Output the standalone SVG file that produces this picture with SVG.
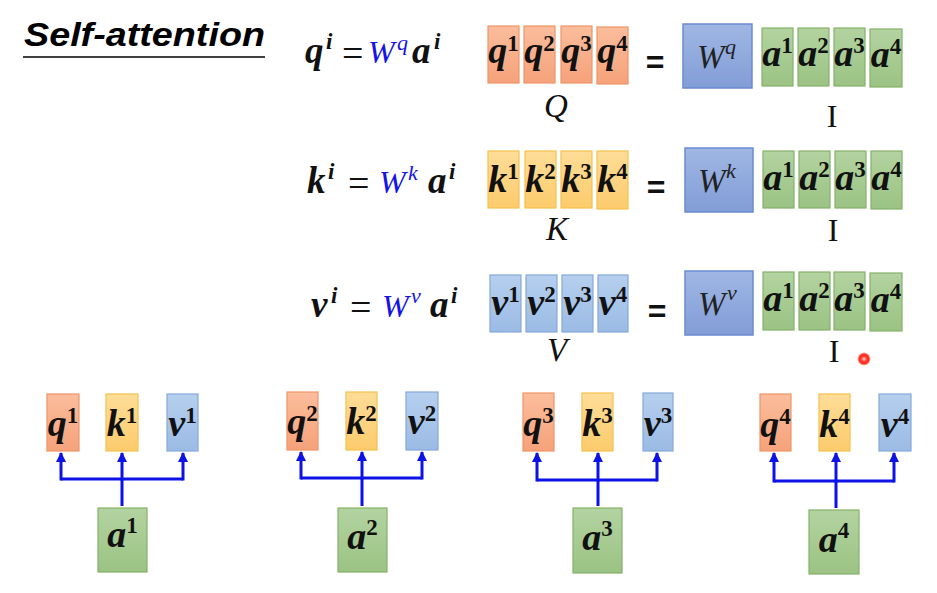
<svg xmlns="http://www.w3.org/2000/svg" width="937" height="593" viewBox="0 0 937 593">
<defs>
<linearGradient id="gq" x1="0" y1="0" x2="0" y2="1"><stop offset="0" stop-color="#fbbd9c"/><stop offset="1" stop-color="#f5a27a"/></linearGradient>
<linearGradient id="gk" x1="0" y1="0" x2="0" y2="1"><stop offset="0" stop-color="#fedd98"/><stop offset="1" stop-color="#fccb6c"/></linearGradient>
<linearGradient id="gv" x1="0" y1="0" x2="0" y2="1"><stop offset="0" stop-color="#b6cfee"/><stop offset="1" stop-color="#9bbbe5"/></linearGradient>
<linearGradient id="ga" x1="0" y1="0" x2="0" y2="1"><stop offset="0" stop-color="#b3d3a0"/><stop offset="1" stop-color="#9bc384"/></linearGradient>
<linearGradient id="gw" x1="0" y1="0" x2="0" y2="1"><stop offset="0" stop-color="#a0b7e4"/><stop offset="1" stop-color="#829dd7"/></linearGradient>
<radialGradient id="gdot"><stop offset="0" stop-color="#ffdddd"/><stop offset="0.4" stop-color="#ff3b2f"/><stop offset="0.7" stop-color="#ff2a1a"/><stop offset="1" stop-color="#ff6a5a" stop-opacity="0"/></radialGradient>
<marker id="ah" markerUnits="userSpaceOnUse" markerWidth="10" markerHeight="10" refX="9" refY="5" orient="auto">
<path d="M0,0 L10,5 L0,10 z" fill="#0d12e6"/>
</marker>
</defs>
<style>
.q{fill:url(#gq);stroke:#ef9468;stroke-width:1.2}
.k{fill:url(#gk);stroke:#f4c14e;stroke-width:1.2}
.v{fill:url(#gv);stroke:#84a8da;stroke-width:1.2}
.a{fill:url(#ga);stroke:#84b169;stroke-width:1.2}
.w{fill:url(#gw);stroke:#6a8bd2;stroke-width:1.5}
.m{font-family:"Liberation Serif","DejaVu Serif",serif;font-weight:bold;font-style:italic;fill:#111}
.bx{font-size:38px}
.s{font-size:23px;font-style:normal}
.si{font-size:23px}
.eq{font-size:37px}
.op{font-family:"Liberation Serif","DejaVu Serif",serif;font-size:38px;fill:#111}
.bl{font-family:"Liberation Serif","DejaVu Serif",serif;font-style:italic;font-weight:normal;fill:#1414e8;font-size:32px}
.bls{font-family:"Liberation Serif","DejaVu Serif",serif;font-style:italic;font-weight:normal;fill:#1414e8;font-size:22px}
.wt{font-family:"Liberation Serif","DejaVu Serif",serif;font-style:italic;font-weight:normal;fill:#222;font-size:33px}
.wts{font-family:"Liberation Serif","DejaVu Serif",serif;font-style:italic;font-weight:normal;fill:#222;font-size:22px}
.lab{font-family:"Liberation Serif","DejaVu Serif",serif;font-style:italic;font-size:33px;fill:#111}
.ii{font-family:"Liberation Serif","DejaVu Serif",serif;font-size:32px;fill:#111}
.eqs{font-family:"Liberation Sans","DejaVu Sans",sans-serif;font-weight:bold;font-size:32px;fill:#111}
.ln{fill:none;stroke:#0d12e6;stroke-width:3}
</style>
<rect width="937" height="593" fill="#ffffff"/>

<g id="title">
<text x="24" y="46" font-family="Liberation Sans, Arial, sans-serif" font-weight="bold" font-style="italic" font-size="33" textLength="241" lengthAdjust="spacingAndGlyphs" fill="#000">Self-attention</text>
<line x1="23" y1="57" x2="265" y2="57" stroke="#000" stroke-width="1.5"/>
</g>

<!-- Row 1 -->
<g id="eq-q">
<text class="m eq" x="305" y="63">q</text><text class="m si" x="326" y="49">i</text>
<text class="op" x="342" y="66">=</text>
<text class="bl" x="368" y="63">W</text><text class="bls" x="397" y="50">q</text>
<text class="m eq" x="412" y="63">a</text><text class="m si" x="434" y="49">i</text>
</g>
<g id="Q">
<rect class="q" x="488" y="26" width="31" height="57"/>
<rect class="q" x="524" y="26" width="31" height="57"/>
<rect class="q" x="561" y="26" width="31" height="57"/>
<rect class="q" x="597" y="27" width="31" height="57"/>
<text class="m bx" x="503.5" y="63" text-anchor="middle">q<tspan class="s" dy="-12">1</tspan></text>
<text class="m bx" x="539.5" y="63" text-anchor="middle">q<tspan class="s" dy="-12">2</tspan></text>
<text class="m bx" x="576.5" y="63" text-anchor="middle">q<tspan class="s" dy="-12">3</tspan></text>
<text class="m bx" x="612.5" y="63" text-anchor="middle">q<tspan class="s" dy="-12">4</tspan></text>
<text class="lab" x="556" y="117" text-anchor="middle">Q</text>
</g>
<text class="eqs" x="655" y="73" text-anchor="middle">=</text>
<g id="Wq">
<rect class="w" x="683" y="24" width="69" height="64"/>
<text class="wt" x="697" y="68">W</text><text class="wts" x="725" y="54">q</text>
</g>
<g id="I1">
<rect class="a" x="762" y="28" width="31" height="58"/>
<rect class="a" x="798" y="28" width="31" height="58"/>
<rect class="a" x="834" y="28" width="31" height="58"/>
<rect class="a" x="870" y="29" width="32" height="58"/>
<text class="m bx" x="777.5" y="66" text-anchor="middle">a<tspan class="s" dy="-13">1</tspan></text>
<text class="m bx" x="813.5" y="66" text-anchor="middle">a<tspan class="s" dy="-13">2</tspan></text>
<text class="m bx" x="849.5" y="66" text-anchor="middle">a<tspan class="s" dy="-13">3</tspan></text>
<text class="m bx" x="886" y="67" text-anchor="middle">a<tspan class="s" dy="-13">4</tspan></text>
<text class="ii" x="832" y="127" text-anchor="middle">I</text>
</g>

<!-- Row 2 -->
<g id="eq-k">
<text class="m eq" x="307" y="193">k</text><text class="m si" x="328" y="179">i</text>
<text class="op" x="348" y="196">=</text>
<text class="bl" x="379" y="193">W</text><text class="bls" x="408" y="180">k</text>
<text class="m eq" x="428" y="193">a</text><text class="m si" x="449" y="179">i</text>
</g>
<g id="K">
<rect class="k" x="488" y="151" width="31" height="57"/>
<rect class="k" x="525" y="151" width="31" height="57"/>
<rect class="k" x="561" y="151" width="31" height="57"/>
<rect class="k" x="597" y="151" width="31" height="58"/>
<text class="m bx" x="503.5" y="192" text-anchor="middle">k<tspan class="s" dy="-13">1</tspan></text>
<text class="m bx" x="540.5" y="192" text-anchor="middle">k<tspan class="s" dy="-13">2</tspan></text>
<text class="m bx" x="576.5" y="192" text-anchor="middle">k<tspan class="s" dy="-13">3</tspan></text>
<text class="m bx" x="612.5" y="192" text-anchor="middle">k<tspan class="s" dy="-13">4</tspan></text>
<text class="lab" x="557" y="240" text-anchor="middle">K</text>
</g>
<text class="eqs" x="656" y="198" text-anchor="middle">=</text>
<g id="Wk">
<rect class="w" x="685" y="148" width="68" height="64"/>
<text class="wt" x="698" y="192">W</text><text class="wts" x="726" y="178">k</text>
</g>
<g id="I2">
<rect class="a" x="763" y="151" width="31" height="57"/>
<rect class="a" x="799" y="151" width="31" height="57"/>
<rect class="a" x="835" y="151" width="31" height="57"/>
<rect class="a" x="871" y="151" width="31" height="58"/>
<text class="m bx" x="778.5" y="190" text-anchor="middle">a<tspan class="s" dy="-13">1</tspan></text>
<text class="m bx" x="814.5" y="190" text-anchor="middle">a<tspan class="s" dy="-13">2</tspan></text>
<text class="m bx" x="850.5" y="190" text-anchor="middle">a<tspan class="s" dy="-13">3</tspan></text>
<text class="m bx" x="886.5" y="190" text-anchor="middle">a<tspan class="s" dy="-13">4</tspan></text>
<text class="ii" x="833" y="241" text-anchor="middle">I</text>
</g>

<!-- Row 3 -->
<g id="eq-v">
<text class="m eq" x="311" y="317">v</text><text class="m si" x="331" y="303">i</text>
<text class="op" x="350" y="320">=</text>
<text class="bl" x="382" y="317">W</text><text class="bls" x="411" y="303">v</text>
<text class="m eq" x="430" y="317">a</text><text class="m si" x="451" y="303">i</text>
</g>
<g id="V">
<rect class="v" x="490" y="275" width="31" height="57"/>
<rect class="v" x="526" y="275" width="31" height="57"/>
<rect class="v" x="562" y="275" width="31" height="57"/>
<rect class="v" x="598" y="275" width="30" height="57"/>
<text class="m bx" x="505.5" y="315" text-anchor="middle">v<tspan class="s" dy="-13">1</tspan></text>
<text class="m bx" x="541.5" y="315" text-anchor="middle">v<tspan class="s" dy="-13">2</tspan></text>
<text class="m bx" x="577.5" y="315" text-anchor="middle">v<tspan class="s" dy="-13">3</tspan></text>
<text class="m bx" x="613" y="315" text-anchor="middle">v<tspan class="s" dy="-13">4</tspan></text>
<text class="lab" x="557" y="361" text-anchor="middle">V</text>
</g>
<text class="eqs" x="657" y="322" text-anchor="middle">=</text>
<g id="Wv">
<rect class="w" x="685" y="271" width="68" height="64"/>
<text class="wt" x="698" y="315">W</text><text class="wts" x="727" y="300">v</text>
</g>
<g id="I3">
<rect class="a" x="763" y="272" width="31" height="58"/>
<rect class="a" x="799" y="272" width="31" height="58"/>
<rect class="a" x="834" y="272" width="31" height="58"/>
<rect class="a" x="870" y="273" width="32" height="58"/>
<text class="m bx" x="778.5" y="311" text-anchor="middle">a<tspan class="s" dy="-13">1</tspan></text>
<text class="m bx" x="814.5" y="311" text-anchor="middle">a<tspan class="s" dy="-13">2</tspan></text>
<text class="m bx" x="849.5" y="311" text-anchor="middle">a<tspan class="s" dy="-13">3</tspan></text>
<text class="m bx" x="886" y="312" text-anchor="middle">a<tspan class="s" dy="-13">4</tspan></text>
<text class="ii" x="834" y="362" text-anchor="middle">I</text>
</g>
<circle cx="864" cy="359" r="7" fill="url(#gdot)"/>

<!-- Bottom groups -->
<g id="q1"><rect class="q" x="47" y="394" width="32" height="57"/><text class="m bx" x="63" y="436" text-anchor="middle">q<tspan class="s" dy="-13">1</tspan></text></g>
<g id="k1"><rect class="k" x="106" y="394" width="32" height="57"/><text class="m bx" x="122" y="436" text-anchor="middle">k<tspan class="s" dy="-13">1</tspan></text></g>
<g id="v1"><rect class="v" x="167" y="394" width="31" height="57"/><text class="m bx" x="182.5" y="436" text-anchor="middle">v<tspan class="s" dy="-13">1</tspan></text></g>
<g id="a1"><rect class="a" x="98" y="508" width="49" height="64"/><text class="m bx" x="122.5" y="547" text-anchor="middle">a<tspan class="s" dy="-14">1</tspan></text></g>

<g id="q2"><rect class="q" x="287" y="392" width="31" height="58"/><text class="m bx" x="302.5" y="434" text-anchor="middle">q<tspan class="s" dy="-13">2</tspan></text></g>
<g id="k2"><rect class="k" x="346" y="392" width="31" height="58"/><text class="m bx" x="361.5" y="434" text-anchor="middle">k<tspan class="s" dy="-13">2</tspan></text></g>
<g id="v2"><rect class="v" x="406" y="392" width="32" height="58"/><text class="m bx" x="422" y="434" text-anchor="middle">v<tspan class="s" dy="-13">2</tspan></text></g>
<g id="a2"><rect class="a" x="338" y="508" width="49" height="64"/><text class="m bx" x="362.5" y="549" text-anchor="middle">a<tspan class="s" dy="-14">2</tspan></text></g>

<g id="q3"><rect class="q" x="523" y="393" width="31" height="58"/><text class="m bx" x="538.5" y="436" text-anchor="middle">q<tspan class="s" dy="-13">3</tspan></text></g>
<g id="k3"><rect class="k" x="582" y="393" width="31" height="58"/><text class="m bx" x="597.5" y="436" text-anchor="middle">k<tspan class="s" dy="-13">3</tspan></text></g>
<g id="v3"><rect class="v" x="643" y="393" width="30" height="58"/><text class="m bx" x="658" y="436" text-anchor="middle">v<tspan class="s" dy="-13">3</tspan></text></g>
<g id="a3"><rect class="a" x="573" y="508" width="49" height="65"/><text class="m bx" x="597.5" y="550" text-anchor="middle">a<tspan class="s" dy="-14">3</tspan></text></g>

<g id="q4"><rect class="q" x="760" y="394" width="31" height="57"/><text class="m bx" x="775.5" y="437" text-anchor="middle">q<tspan class="s" dy="-13">4</tspan></text></g>
<g id="k4"><rect class="k" x="819" y="394" width="31" height="57"/><text class="m bx" x="834.5" y="437" text-anchor="middle">k<tspan class="s" dy="-13">4</tspan></text></g>
<g id="v4"><rect class="v" x="879" y="394" width="32" height="57"/><text class="m bx" x="895" y="437" text-anchor="middle">v<tspan class="s" dy="-13">4</tspan></text></g>
<g id="a4"><rect class="a" x="809" y="510" width="50" height="64"/><text class="m bx" x="834" y="552" text-anchor="middle">a<tspan class="s" dy="-14">4</tspan></text></g>

<g id="connectors">
<path class="ln" d="M122,506 V479 M61,479 H183"/>
<path class="ln" d="M61,480.5 V453" marker-end="url(#ah)"/>
<path class="ln" d="M122,480.5 V453" marker-end="url(#ah)"/>
<path class="ln" d="M183,480.5 V453" marker-end="url(#ah)"/>

<path class="ln" d="M362,506 V478 M301,478 H422"/>
<path class="ln" d="M301,479.5 V452" marker-end="url(#ah)"/>
<path class="ln" d="M362,479.5 V452" marker-end="url(#ah)"/>
<path class="ln" d="M422,479.5 V452" marker-end="url(#ah)"/>

<path class="ln" d="M598,506 V480 M537,480 H657"/>
<path class="ln" d="M537,481.5 V453" marker-end="url(#ah)"/>
<path class="ln" d="M598,481.5 V453" marker-end="url(#ah)"/>
<path class="ln" d="M657,481.5 V453" marker-end="url(#ah)"/>

<path class="ln" d="M836,508 V481 M774,481 H894"/>
<path class="ln" d="M774,482.5 V453" marker-end="url(#ah)"/>
<path class="ln" d="M836,482.5 V453" marker-end="url(#ah)"/>
<path class="ln" d="M894,482.5 V453" marker-end="url(#ah)"/>
</g>
</svg>
